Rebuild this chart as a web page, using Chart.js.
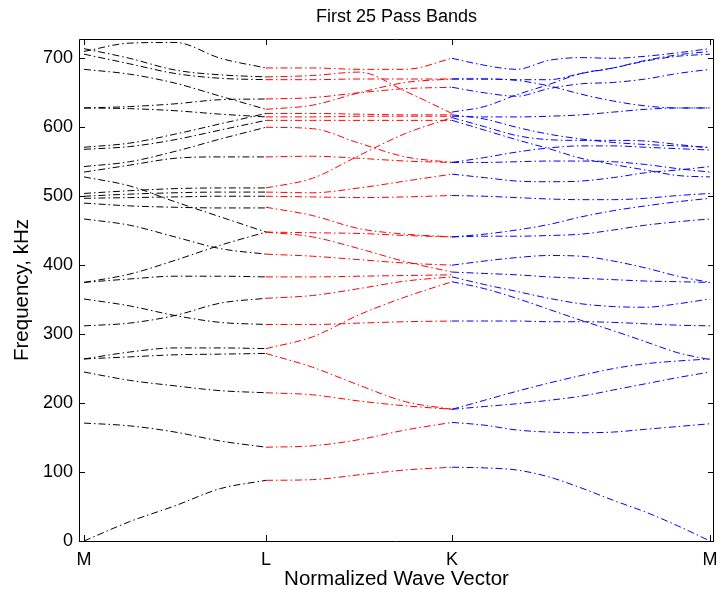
<!DOCTYPE html>
<html><head><meta charset="utf-8">
<script src="https://cdn.jsdelivr.net/npm/chart.js@4.4.0/dist/chart.umd.min.js"></script>
<style>html,body{margin:0;padding:0;background:#fff}canvas{display:block}</style>
</head><body>
<canvas id="c" width="718" height="590"></canvas>
<script>
// Symmetry points along the normalized wave vector
const tickPos = [0, 0.2907, 0.5879, 1];
const tickLabels = ['M', 'L', 'K', 'M'];
const yTicks = [0, 100, 200, 300, 400, 500, 600, 700];

// sample positions on each path segment
const xML = [0, 0.0727, 0.1453, 0.218, 0.2907];
const xLK = [0.2907, 0.365, 0.4393, 0.5136, 0.5879];
const xKM = [0.5879, 0.6394, 0.6909, 0.7425, 0.794, 0.8455, 0.897, 0.9485, 1];

// Frequencies (kHz) of the 25 bands on M -> L
const bandsML = [
  [0, 28, 51, 76, 88],
  [171, 167, 158, 145, 136],
  [245, 233, 225, 218, 215],
  [264, 274, 280, 280, 279],
  [264, 267, 270, 271, 272],
  [312, 316, 327, 345, 352],
  [351, 341, 327, 317, 314],
  [375, 380, 384, 384, 383],
  [375, 387, 407, 429, 448],
  [467, 458, 441, 424, 416],
  [528, 515, 492, 470, 448],
  [490, 486, 484, 483, 483],
  [497, 498, 499, 500, 500],
  [500, 503, 505, 506, 506],
  [504, 508, 511, 512, 512],
  [535, 545, 555, 557, 557],
  [543, 550, 565, 583, 600],
  [568, 572, 582, 596, 610],
  [571, 577, 590, 605, 620],
  [628, 630, 634, 640, 641],
  [628, 627, 624, 619, 615],
  [684, 677, 664, 645, 626],
  [706, 692, 678, 671, 669],
  [714, 700, 683, 676, 673],
  [710, 722, 723, 700, 686]
];

// L -> K
const bandsLK = [
  [88, 89, 96, 103, 107],
  [136, 138, 147, 161, 172],
  [215, 212, 203, 196, 191],
  [272, 252, 226, 202, 191],
  [279, 296, 328, 354, 376],
  [314, 314, 316, 318, 319],
  [352, 356, 366, 377, 383],
  [383, 383, 384, 385, 386],
  [416, 413, 408, 403, 400],
  [448, 447, 446, 443, 441],
  [448, 441, 424, 405, 390],
  [484, 472, 453, 445, 441],
  [500, 499, 498, 499, 501],
  [506, 505, 512, 522, 532],
  [512, 526, 559, 591, 614],
  [557, 558, 555, 551, 549],
  [600, 598, 577, 557, 549],
  [610, 610, 610, 610, 610],
  [615, 615, 616, 616, 616],
  [620, 620, 619, 618, 618],
  [626, 632, 650, 665, 670],
  [641, 643, 650, 656, 658],
  [673, 675, 680, 652, 620],
  [669, 669, 670, 670, 670],
  [686, 686, 684, 684, 700]
];

// K -> M
const bandsKM = [
  [107, 106, 103, 93, 77, 59, 42, 22, 0],
  [172, 168, 161, 158, 157, 158, 162, 166, 170],
  [191, 195, 199, 204, 210, 219, 228, 237, 245],
  [191, 204, 217, 229, 240, 250, 257, 261, 264],
  [319, 319, 319, 318, 318, 317, 315, 313, 312],
  [376, 366, 352, 336, 320, 305, 289, 273, 263],
  [383, 372, 362, 352, 344, 340, 339, 344, 351],
  [390, 388, 386, 383, 381, 379, 377, 376, 375],
  [400, 406, 411, 414, 413, 406, 396, 384, 375],
  [441, 442, 442, 443, 445, 451, 458, 463, 467],
  [441, 445, 451, 459, 470, 479, 486, 492, 497],
  [501, 500, 498, 496, 495, 495, 497, 501, 504],
  [532, 527, 522, 521, 522, 527, 534, 538, 543],
  [549, 549, 550, 551, 551, 550, 546, 540, 535],
  [549, 556, 564, 570, 573, 573, 571, 569, 567],
  [610, 596, 582, 569, 555, 546, 538, 530, 528],
  [614, 601, 588, 582, 581, 581, 580, 575, 570],
  [618, 612, 600, 590, 583, 578, 575, 573, 571],
  [616, 615, 615, 616, 618, 622, 626, 628, 628],
  [622, 630, 647, 662, 678, 686, 696, 703, 706],
  [658, 650, 645, 656, 663, 665, 670, 678, 684],
  [670, 670, 668, 660, 648, 638, 631, 628, 628],
  [670, 670, 669, 669, 678, 686, 697, 705, 710],
  [700, 690, 684, 697, 701, 700, 703, 708, 714]
];

const DASH = [7, 3, 1.5, 3];
function makeSets(xs, bands, color) {
  return bands.map(vals => ({
    data: vals.map((v, i) => ({x: xs[i], y: v})),
    borderColor: color,
    borderWidth: 1,
    borderDash: DASH,
    pointRadius: 0,
    fill: false,
    cubicInterpolationMode: 'monotone'
  }));
}

const datasets = [].concat(
  makeSets(xML, bandsML, '#000000'),
  makeSets(xLK, bandsLK, '#ff0000'),
  makeSets(xKM, bandsKM, '#0000ff')
);

const FONT = "'Liberation Sans', Arial, Helvetica, sans-serif";

const boxPlugin = {
  id: 'box',
  afterDraw(chart) {
    const {ctx, chartArea: a, scales} = chart;
    ctx.save();
    ctx.strokeStyle = '#000';
    ctx.lineWidth = 1;
    ctx.beginPath();
    ctx.rect(Math.round(a.left) + 0.5, Math.round(a.top) + 0.5,
             Math.round(a.right - a.left) - 1, Math.round(a.bottom - a.top));
    const L = 6;
    tickPos.forEach(v => {
      const x = Math.round(scales.x.getPixelForValue(v)) + 0.5;
      ctx.moveTo(x, a.bottom); ctx.lineTo(x, a.bottom - L);
      ctx.moveTo(x, a.top); ctx.lineTo(x, a.top + L);
    });
    yTicks.forEach(v => {
      const y = Math.round(scales.y.getPixelForValue(v)) + 0.5;
      ctx.moveTo(a.left, y); ctx.lineTo(a.left + L, y);
      ctx.moveTo(a.right, y); ctx.lineTo(a.right - L, y);
    });
    ctx.stroke();
    ctx.restore();
  }
};

new Chart(document.getElementById('c'), {
  type: 'line',
  data: {datasets},
  plugins: [boxPlugin],
  options: {
    responsive: false,
    animation: false,
    layout: {padding: {left: 0, right: 4, top: 0, bottom: 0}},
    plugins: {
      legend: {display: false},
      tooltip: {enabled: false},
      title: {
        display: true,
        fullSize: false,
        text: 'First 25 Pass Bands',
        color: '#000',
        font: {family: FONT, size: 18, weight: 'normal', lineHeight: 1.2},
        padding: {top: 6, bottom: 11.4}
      }
    },
    scales: {
      x: {
        type: 'linear',
        min: -0.008,
        max: 1.0064,
        grid: {display: false, drawTicks: false},
        border: {display: false},
        afterBuildTicks: s => { s.ticks = tickPos.map(v => ({value: v})); },
        afterFit: s => { s.height = 49; s.paddingLeft = 0; s.paddingRight = 0; },
        ticks: {
          autoSkip: false, maxRotation: 0, padding: 8, color: '#000',
          font: {family: FONT, size: 18},
          callback: (v, i) => tickLabels[i]
        },
        title: {display: true, text: 'Normalized Wave Vector', color: '#000',
          font: {family: FONT, size: 20.5, lineHeight: 1}, padding: {top: 0, bottom: 0}}
      },
      y: {
        type: 'linear',
        min: 0,
        max: 728,
        grid: {display: false, drawTicks: false},
        border: {display: false},
        afterBuildTicks: s => { s.ticks = yTicks.map(v => ({value: v})); },
        afterFit: s => { s.width = 79; s.paddingTop = 0; s.paddingBottom = 0; },
        ticks: {padding: 6, color: '#000', font: {family: FONT, size: 18}},
        title: {display: true, text: 'Frequency, kHz', color: '#000',
          font: {family: FONT, size: 20.5, lineHeight: 1}, padding: {top: 11.7, bottom: 0}}
      }
    }
  }
});
</script>
</body></html>
